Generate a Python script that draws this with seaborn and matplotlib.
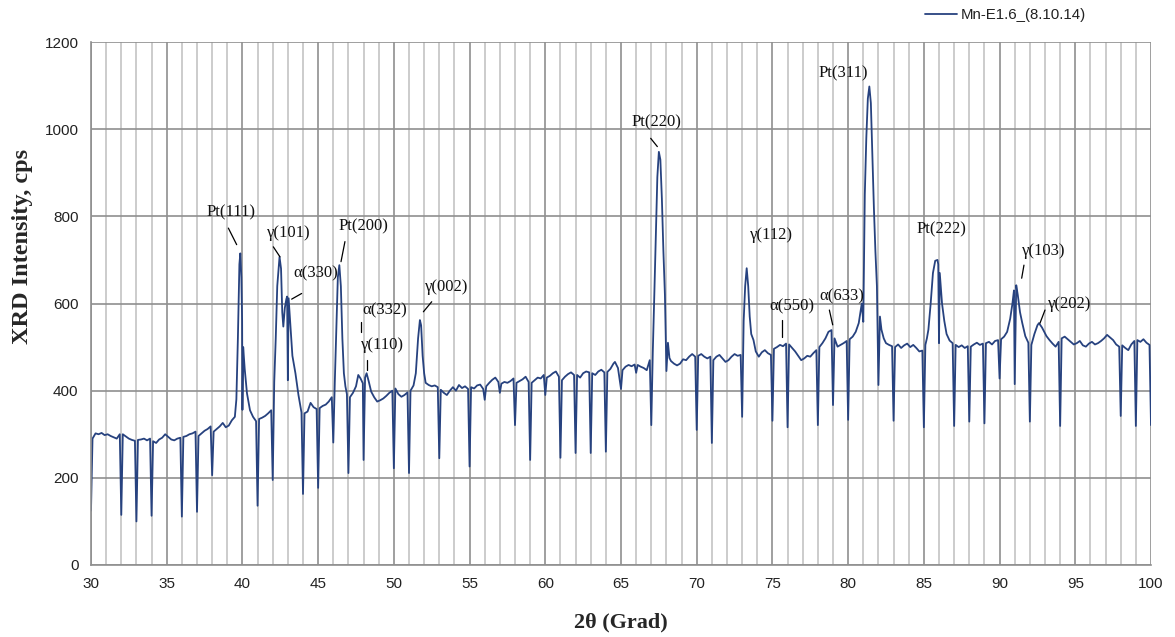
import numpy as np
import pandas as pd
import matplotlib
matplotlib.use("Agg")
import matplotlib.pyplot as plt
import seaborn as sns

# ---- measured XRD profile (2theta in degrees, intensity in cps) ----
two_theta = [
    30.1, 30.3, 30.5, 30.7, 30.9, 31.1, 31.3, 31.5, 31.7, 31.9,
    32.1, 32.3, 32.5, 32.7, 32.9, 33.1, 33.3, 33.5, 33.7, 33.9,
    34.1, 34.3, 34.5, 34.7, 34.9, 35.1, 35.3, 35.5, 35.7, 35.9,
    36.1, 36.3, 36.5, 36.7, 36.9, 37.1, 37.3, 37.5, 37.7, 37.9,
    38.1, 38.3, 38.5, 38.7, 38.9, 39.1, 39.3, 39.5, 39.6, 39.7,
    39.8, 39.86, 39.93, 39.98, 40.05, 40.15, 40.3, 40.5,
    40.7, 40.9, 41.1, 41.3, 41.5, 41.7, 41.9, 42.1, 42.2, 42.3,
    42.45, 42.55, 42.63, 42.7, 42.8, 42.9, 42.95, 43.05, 43.15, 43.3,
    43.5, 43.7, 43.9, 44.1, 44.3, 44.5, 44.7, 44.9, 45.1, 45.3,
    45.5, 45.7, 45.9, 46.1, 46.2, 46.3, 46.4, 46.5, 46.6, 46.7,
    46.8, 46.9, 47.1, 47.3, 47.5, 47.65, 47.8, 47.95, 48.1, 48.2,
    48.35, 48.5, 48.7, 48.9, 49.1, 49.3, 49.5, 49.7, 49.9, 50.1,
    50.3, 50.5, 50.7, 50.9, 51.1, 51.3, 51.45, 51.6, 51.72, 51.8,
    51.9, 52.0, 52.1, 52.3, 52.5, 52.7, 52.9, 53.1, 53.3, 53.5,
    53.7, 53.9, 54.1, 54.3, 54.5, 54.7, 54.9, 55.1, 55.3, 55.5,
    55.7, 55.9, 56.1, 56.3, 56.5, 56.7, 56.9, 57.1, 57.3, 57.5,
    57.7, 57.9, 58.1, 58.3, 58.5, 58.7, 58.9, 59.1, 59.3, 59.5,
    59.7, 59.9, 60.1, 60.3, 60.5, 60.7, 60.9, 61.1, 61.3, 61.5,
    61.7, 61.9, 62.1, 62.3, 62.5, 62.7, 62.9, 63.1, 63.3, 63.5,
    63.7, 63.9, 64.1, 64.3, 64.5, 64.6, 64.8, 65.1, 65.3, 65.5,
    65.7, 65.9, 66.1, 66.3, 66.5, 66.7, 66.9, 67.1, 67.2, 67.3,
    67.4, 67.5, 67.6, 67.7, 67.8, 67.9, 68.1, 68.2, 68.3, 68.5,
    68.7, 68.9, 69.1, 69.3, 69.5, 69.7, 69.9, 70.1, 70.3, 70.5,
    70.7, 70.9, 71.1, 71.3, 71.5, 71.7, 71.9, 72.1, 72.3, 72.5,
    72.7, 72.9, 73.1, 73.2, 73.3, 73.4, 73.5, 73.6, 73.75, 73.9,
    74.1, 74.3, 74.5, 74.7, 74.9, 75.1, 75.3, 75.5, 75.7, 75.9,
    76.1, 76.3, 76.5, 76.7, 76.9, 77.1, 77.3, 77.5, 77.7, 77.9,
    78.1, 78.3, 78.5, 78.7, 78.9, 79.1, 79.3, 79.5, 79.7, 79.9,
    80.1, 80.3, 80.5, 80.7, 80.9, 81.1, 81.2, 81.3, 81.4, 81.5,
    81.6, 81.7, 81.8, 81.9, 82.1, 82.2, 82.35, 82.5, 82.7, 82.9,
    83.1, 83.3, 83.5, 83.7, 83.9, 84.1, 84.3, 84.5, 84.7, 84.9,
    85.1, 85.2, 85.3, 85.45, 85.6, 85.75, 85.9, 85.95, 86.05, 86.2,
    86.35, 86.5, 86.7, 86.9, 87.1, 87.3, 87.5, 87.7, 87.9, 88.1,
    88.3, 88.5, 88.7, 88.9, 89.1, 89.3, 89.5, 89.7, 89.9, 90.1,
    90.3, 90.5, 90.7, 90.85, 90.95, 91.1, 91.2, 91.35, 91.5, 91.7,
    91.9, 92.1, 92.3, 92.5, 92.6, 92.8, 92.95, 93.1, 93.3, 93.5,
    93.7, 93.9, 94.1, 94.3, 94.5, 94.7, 94.9, 95.1, 95.3, 95.5,
    95.7, 95.9, 96.1, 96.3, 96.5, 96.7, 96.9, 97.1, 97.3, 97.5,
    97.7, 97.9, 98.1, 98.3, 98.5, 98.7, 98.9, 99.1, 99.3, 99.5,
    99.7, 99.9,
]
intensity = [
    290, 302, 300, 303, 298, 300, 296, 293, 290, 300,
    300, 295, 290, 287, 285, 287, 288, 290, 286, 290,
    284, 280, 288, 292, 300, 294, 288, 286, 290, 292,
    294, 296, 300, 302, 306, 296, 302, 308, 312, 318,
    306, 312, 318, 326, 316, 320, 332, 340, 380, 520,
    690, 715, 660, 560, 500, 450, 394, 355,
    340, 330, 335, 338, 342, 348, 355, 420, 520, 640,
    707, 680, 580, 547, 590, 610, 616, 612, 560, 480,
    440, 390, 350, 348, 352, 372, 362, 358, 360, 365,
    368, 375, 385, 420, 540, 660, 688, 640, 520, 440,
    410, 392, 385, 395, 410, 436, 428, 417, 430, 440,
    420, 398, 385, 375, 378, 382, 388, 395, 400, 405,
    392, 386, 390, 396, 400, 412, 440, 520, 562, 550,
    480, 440, 418, 413, 410, 412, 408, 402, 395, 390,
    400, 408, 400, 413, 406, 410, 404, 408, 405, 412,
    414, 404, 410, 418, 425, 430, 420, 416, 420, 418,
    422, 428, 418, 422, 426, 432, 420, 418, 424, 430,
    428, 436, 430, 434, 440, 444, 432, 424, 432, 438,
    442, 436, 436, 430, 440, 444, 442, 440, 436, 444,
    448, 442, 443, 450, 462, 466, 452, 447, 455, 459,
    456, 460, 459, 455, 452, 447, 470, 490, 620, 760,
    890, 948, 930, 840, 720, 620, 510, 475, 468, 462,
    458, 462, 472, 470, 478, 484, 478, 480, 484, 478,
    474, 478, 470, 478, 482, 474, 466, 470, 478, 484,
    480, 482, 560, 640, 681, 640, 570, 530, 516, 490,
    478, 488, 493, 486, 482, 496, 500, 505, 502, 508,
    506, 498, 490, 480, 470, 474, 480, 478, 486, 493,
    500, 509, 520, 535, 539, 520, 501, 505, 509, 514,
    518, 524, 535, 555, 600, 850, 980, 1070, 1098, 1060,
    940, 820, 720, 640, 570, 540, 520, 509, 505, 502,
    500, 506, 498, 504, 508, 500, 505, 498, 490, 492,
    505, 520, 540, 600, 670, 698, 700, 690, 670, 600,
    560, 530, 515, 509, 505, 500, 504, 498, 502, 501,
    506, 510, 505, 508, 509, 512, 506, 514, 516, 518,
    524, 535, 565, 600, 630, 642, 620, 580, 555, 525,
    510, 505, 530, 550, 555, 545, 535, 525, 516, 508,
    501, 512, 520, 524, 518, 512, 506, 509, 514, 504,
    501, 508, 512, 506, 509, 514, 520, 528, 522, 516,
    506, 501, 504, 498, 493, 506, 514, 516, 512, 518,
    510, 505,
]

# detector dropouts recorded at whole-degree steps
dropout_theta = [30, 32, 33, 34, 36, 37, 38, 40, 41, 42, 43, 44, 45, 46, 47, 48,
                 50, 51, 53, 55, 56, 57, 58, 59, 60, 61, 62, 63, 64, 65, 66, 67,
                 68, 70, 71, 73, 75, 76, 78, 79, 80, 81, 82, 83, 85, 86, 87, 88,
                 89, 90, 91, 92, 94, 98, 99, 100]
dropout_cps = [125, 115, 100, 113, 111, 122, 206, 356, 136, 195, 424, 163, 177, 281, 211, 241,
               222, 211, 245, 226, 379, 395, 321, 241, 390, 246, 257, 257, 260, 404, 441, 321,
               445, 310, 280, 340, 331, 316, 321, 367, 333, 558, 413, 331, 316, 509, 319, 329,
               325, 428, 415, 329, 319, 342, 319, 321]

# ---- reflection labels: text anchor and optional leader line ----
peak_labels = ["Pt(111)", "γ(101)", "α(330)", "Pt(200)", "α(332)", "γ(110)", "γ(002)",
               "Pt(220)", "γ(112)", "α(550)", "α(633)", "Pt(311)", "Pt(222)", "γ(103)", "γ(202)"]
label_theta = [39.25, 43.03, 44.83, 47.98, 49.39, 49.22, 53.46,
               67.36, 74.93, 76.27, 79.57, 79.68, 86.17, 92.89, 94.65]
label_cps = [808, 761, 668, 776, 585, 505, 639,
             1015, 757, 593, 617, 1128, 769, 721, 599]
leader_lines = [((39.07, 773), (39.62, 735)), ((42.04, 730), (42.48, 707)),
                ((43.91, 623), (43.25, 610)), ((46.77, 742), (46.51, 696)),
                ((47.83, 558), (47.83, 535)), ((48.25, 470), (48.25, 447)),
                ((52.50, 604), (51.95, 581)), ((66.96, 979), (67.40, 960)),
                None, ((75.61, 562), (75.61, 524)), ((78.76, 585), (78.98, 551)),
                None, None, ((91.61, 688), (91.46, 658)), ((93.00, 585), (92.67, 555))]

series_name = "Mn-E1.6_(8.10.14)"

# merge the profile and dropout points into a single scan ordered by angle
theta_all = np.concatenate([two_theta, dropout_theta]).astype(float)
cps_all = np.concatenate([intensity, dropout_cps]).astype(float)
order = np.argsort(theta_all, kind="stable")
scan = pd.DataFrame({"two_theta": theta_all[order], "cps": cps_all[order]})

sns.set_style("white")
plt.rcParams["font.family"] = ["Liberation Sans", "DejaVu Sans"]

fig = plt.figure(figsize=(11.75, 6.37), dpi=100)
ax = fig.add_axes([91 / 1175, 1 - 565 / 637, (1151 - 91) / 1175, (565 - 42) / 637])

line_color = "#27427f"
sns.lineplot(data=scan, x="two_theta", y="cps", ax=ax, color=line_color,
             linewidth=1.3, sort=False, estimator=None, label=series_name)

ax.set_xlim(30, 100)
ax.set_ylim(0, 1200)
ax.set_xticks(np.arange(30, 101, 5))
ax.set_xticks(np.arange(30, 101, 1), minor=True)
ax.set_yticks(np.arange(0, 1201, 200))

ax.grid(which="major", axis="both", color="#8f8f8f", linewidth=1.2)
ax.grid(which="minor", axis="x", color="#c4c4c4", linewidth=1.2)
ax.set_axisbelow(True)

for side in ("top", "right"):
    ax.spines[side].set_visible(False)
for side in ("left", "bottom"):
    ax.spines[side].set_color("#8f8f8f")
    ax.spines[side].set_linewidth(1.2)

ax.tick_params(axis="both", which="major", direction="out", length=5, width=1.2,
               color="#8f8f8f", labelsize=11, labelcolor="#222222", pad=4)
ax.tick_params(axis="x", which="minor", length=0)

ax.set_xlabel("2θ (Grad)", labelpad=15, family="Liberation Serif",
              fontweight="bold", fontsize=16)
ax.set_ylabel("XRD Intensity, cps", family="Liberation Serif",
              fontweight="bold", fontsize=17.5, va="center")
ax.yaxis.set_label_coords(-0.065, 0.61)

for text, tx, ty, leader in zip(peak_labels, label_theta, label_cps, leader_lines):
    ax.text(tx, ty, text, ha="center", va="center", family="Liberation Serif",
            fontsize=12, color="#111111")
    if leader is not None:
        (x0, y0), (x1, y1) = leader
        ax.plot([x0, x1], [y0, y1], color="black", linewidth=0.9)

leg = ax.legend(loc="center left", bbox_to_anchor=(925 / 1175, 1 - 15 / 637),
                bbox_transform=fig.transFigure, frameon=False, fontsize=10.8,
                handlelength=2.15, handletextpad=0.2, borderaxespad=0, borderpad=0)
for t in leg.get_texts():
    t.set_color("#222222")

fig.savefig("out.png", dpi=100)
